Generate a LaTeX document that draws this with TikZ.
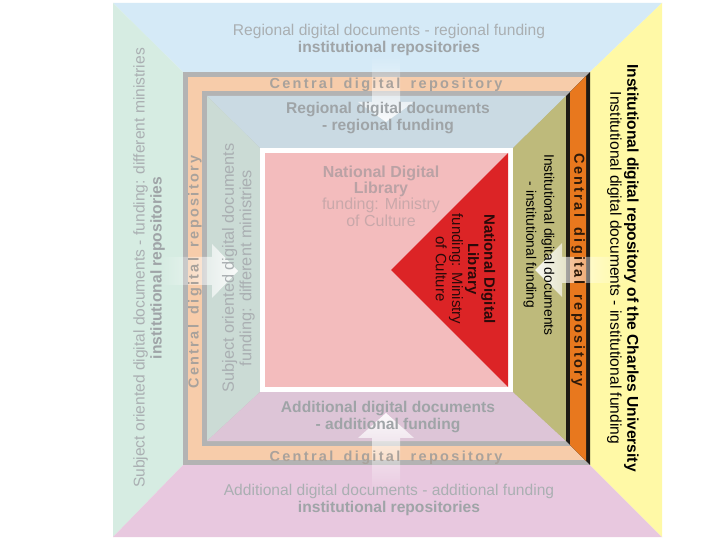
\documentclass[tikz,border=0pt]{standalone}
\usepackage{fontspec}
\setmainfont{Liberation Sans}
\newfontfamily\spacedfont[LetterSpace=16]{Liberation Sans}
\usetikzlibrary{fadings}

\definecolor{oblue}{HTML}{D5EAF7}
\definecolor{ogreen}{HTML}{D6ECE2}
\definecolor{opink}{HTML}{E8C8DF}
\definecolor{oyellow}{HTML}{FFF9A6}
\definecolor{fgray}{HTML}{B3B3B3}
\definecolor{fpeach}{HTML}{F7CCAA}
\definecolor{mblue}{HTML}{CADAE3}
\definecolor{mgreen}{HTML}{CBDBD5}
\definecolor{mpurple}{HTML}{DDC5D7}
\definecolor{molive}{HTML}{BEBA7B}
\definecolor{cpink}{HTML}{F3BCBD}
\definecolor{cred}{HTML}{DC2426}
\definecolor{corange}{HTML}{E8781E}
\definecolor{cblack}{HTML}{1E1A14}
\definecolor{tgray}{HTML}{AAAFB2}
\definecolor{tgrayb}{HTML}{9FA4A7}
\definecolor{tpeach}{HTML}{A9A29C}
\definecolor{tpink}{HTML}{C9A8AA}
\definecolor{tpinkb}{HTML}{BAA2A5}
\definecolor{tbrown}{HTML}{2E1A0A}
\definecolor{tred}{HTML}{2B0A0A}

\newcommand{\cdrtext}{Central\hspace{4pt} digital\hspace{4pt} repository}

\tikzset{
  txt/.style={font=\fontsize{15.6}{17}\selectfont, align=center, inner sep=0pt},
  crd/.style={font=\spacedfont\bfseries\fontsize{14.5}{16}\selectfont, inner sep=0pt},
  flow/.style={fill=white, fill opacity=0.9, path fading=#1},
}

\begin{document}
\begin{tikzpicture}[x=1pt,y=-1pt]
\useasboundingbox (0,0) rectangle (720,540);
\fill[white] (0,0) rectangle (720,540);

% outer corners and frame corners
\coordinate (A) at (113,3);
\coordinate (B) at (662,3);
\coordinate (C) at (662,537);
\coordinate (D) at (113,537);
\coordinate (a) at (183,72);
\coordinate (b) at (590,72);
\coordinate (c) at (590,465);
\coordinate (d) at (183,465);
% inner content corners
\coordinate (e) at (207,96);
\coordinate (f) at (566,96);
\coordinate (g) at (566,441);
\coordinate (h) at (207,441);
% centre square corners
\coordinate (p) at (260,148);
\coordinate (q) at (513,148);
\coordinate (r) at (513,392);
\coordinate (s) at (260,392);

% outer trapezoids
\fill[oblue] (A) -- (B) -- (b) -- (a) -- cycle;
\fill[ogreen] (A) -- (a) -- (d) -- (D) -- cycle;
\fill[opink] (D) -- (d) -- (c) -- (C) -- cycle;
\fill[oyellow] (B) -- (C) -- (c) -- (b) -- cycle;

% frame
\fill[fgray] (a) rectangle (c);
\fill[fpeach] (188,77) rectangle (585,460);
\fill[fgray] (202,91) rectangle (571,446);

% middle trapezoids
\fill[mblue] (e) -- (f) -- (q) -- (p) -- cycle;
\fill[mgreen] (e) -- (p) -- (s) -- (h) -- cycle;
\fill[mpurple] (h) -- (s) -- (r) -- (g) -- cycle;
\fill[molive] (f) -- (g) -- (r) -- (q) -- cycle;

% right band of frame
\fill[cblack] (b) -- (c) -- (g) -- (f) -- cycle;
\fill[corange] (586,76) -- (586,461) -- (570,445) -- (570,92) -- cycle;

% centre square
\fill[white] (p) rectangle (r);
\fill[cpink] (265,153) rectangle (508,387);
\fill[cred] (508,153) -- (508,387) -- (391,270) -- cycle;

% arrows
\fill[flow=north] (372,55) -- (400,55) -- (400,102) -- (414,102) -- (386,122)
  -- (358,102) -- (372,102) -- cycle;
\fill[flow=south] (372,495) -- (400,495) -- (400,438) -- (414,438) -- (386,413)
  -- (358,438) -- (372,438) -- cycle;
\fill[flow=west] (160,257) -- (212,257) -- (212,244) -- (238,271) -- (212,298)
  -- (212,285) -- (160,285) -- cycle;
\fill[flow=east] (628,257) -- (562,257) -- (562,243) -- (535,270) -- (562,297)
  -- (562,283) -- (628,283) -- cycle;

% texts: outer ring
\node[txt, text=tgray] (topout) at (389,39.5)
  {Regional digital documents - regional funding\\
   \textbf{\color{tgrayb}institutional repositories}};
\node[txt, text=tgray] (botout) at (389,499.5)
  {Additional digital documents - additional funding\\
   \textbf{\color{tgrayb}institutional repositories}};
\node[txt, text=tgray, rotate=90] (leftout) at (149,268)
  {Subject oriented digital documents - funding: different ministries\\
   \textbf{\color{tgrayb}institutional repositories}};
\node[txt, text=black, rotate=-90] (rightout) at (623,268)
  {\textbf{Institutional digital repository of the Charles University}\\
   Institutional digital documents - institutional funding};

% texts: frame
\node[crd, text=tpeach] (topfr) at (386,85) {\cdrtext};
\node[crd, text=tpeach] (botfr) at (386,458) {\cdrtext};
\node[crd, text=tpeach, rotate=90] (leftfr) at (195,272) {\cdrtext};
\node[crd, text=tbrown, rotate=-90] (rightfr) at (578,270) {\cdrtext};

% texts: middle ring
\node[txt, text=tgrayb, font=\bfseries\fontsize{15.6}{17}\selectfont] (topmid) at (388,118.5)
  {Regional digital documents\\- regional funding};
\node[txt, text=tgrayb, font=\bfseries\fontsize{15.6}{17}\selectfont] (botmid) at (388,416.5)
  {Additional digital documents\\- additional funding};
\node[txt, text=tgray, font=\fontsize{16.3}{17.5}\selectfont, rotate=90] (leftmid) at (238.5,268)
  {Subject oriented digital documents\\funding: different ministries};
\node[txt, text=black, font=\fontsize{13.8}{18}\selectfont, rotate=-90] (rightmid) at (539,245)
  {Institutional digital documents\\- institutional funding};

% texts: centre
\node[txt, text=tpink, font=\fontsize{16}{16.2}\selectfont] (centre) at (381,196)
  {\textbf{\color{tpinkb}National Digital}\\
   \textbf{\color{tpinkb}Library}\\
   funding: Ministry\\
   of Culture};
\node[txt, text=tred, font=\fontsize{15}{16.2}\selectfont, rotate=-90] (redtxt) at (465.5,269)
  {\textbf{National Digital}\\
   \textbf{Library}\\
   funding: Ministry\\
   of Culture};
\end{tikzpicture}
\end{document}
